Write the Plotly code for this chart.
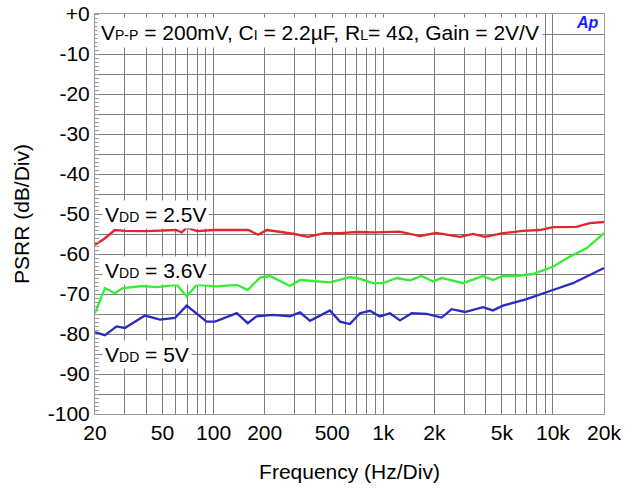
import plotly.graph_objects as go

# ---- data ----
freq_25 = [20, 22.5, 26.2, 30, 40, 50, 60, 65, 69.4, 80, 100, 137, 160, 183, 206, 250, 300, 360,
           450, 556, 700, 900, 1100, 1250, 1650, 2050, 2830, 3380, 3970, 5070, 6650, 8380,
           10000, 13740, 16500, 20000]
psrr_25 = [-57.7, -56.3, -54.0, -54.2, -54.3, -54.2, -54.0, -54.6, -53.4, -54.3, -54.0, -54.0,
           -54.0, -55.2, -54.0, -54.5, -55.0, -55.7, -54.8, -54.8, -54.5, -54.6, -54.5, -54.4,
           -55.5, -54.7, -55.7, -55.0, -55.7, -54.8, -54.2, -54.0, -53.3, -53.2, -52.3, -52.0]

freq_36 = [20, 22.9, 26.2, 29.2, 38.4, 46.4, 60.8, 69.4, 79.5, 104, 137, 159, 188, 215, 282, 323,
           485, 636, 697, 870, 996, 1199, 1436, 1683, 1964, 2208, 2952, 3866, 4426, 5072, 6110,
           7620, 10000, 12590, 15780, 20000]
psrr_36 = [-74.8, -68.5, -69.8, -68.5, -68.0, -68.3, -67.7, -70.6, -67.7, -68.1, -67.7, -69.0,
           -65.9, -65.5, -68.0, -66.5, -67.1, -65.8, -66.0, -67.3, -67.3, -66.0, -66.6, -65.5,
           -66.9, -66.0, -67.3, -65.5, -66.5, -65.5, -65.5, -65.0, -63.2, -60.6, -58.6, -54.8]

freq_5 = [20, 22.9, 26.8, 30, 39.4, 48.3, 59.2, 69.4, 91, 102, 137, 159, 179, 224, 282, 323, 370,
          485, 556, 636, 729, 834, 955, 1095, 1254, 1470, 1803, 2208, 2529, 3030, 3866, 4426,
          5072, 6998, 10000, 13120, 20000]
psrr_5 = [-79.6, -80.3, -78.1, -78.5, -75.4, -76.4, -76.0, -72.9, -76.9, -76.9, -74.8, -77.3,
          -75.6, -75.2, -75.6, -74.6, -76.7, -74.1, -76.9, -77.5, -74.8, -74.2, -75.6, -74.8,
          -76.6, -74.8, -75.0, -75.9, -73.8, -74.5, -73.3, -74.1, -72.9, -71.3, -69.0, -67.3,
          -63.5]

x_grid = [20, 30, 40, 50, 60, 70, 80, 90, 100, 200, 300, 400, 500, 600, 700, 800, 900,
          1000, 2000, 3000, 4000, 5000, 6000, 7000, 8000, 9000, 10000, 20000]
x_labels = {20: "20", 50: "50", 100: "100", 200: "200", 500: "500", 1000: "1k",
            2000: "2k", 5000: "5k", 10000: "10k", 20000: "20k"}
y_grid = list(range(-100, 1, 5))
y_labels = {0: "+0", -10: "-10", -20: "-20", -30: "-30", -40: "-40", -50: "-50",
            -60: "-60", -70: "-70", -80: "-80", -90: "-90", -100: "-100"}

FONT = "Liberation Sans, Arial, sans-serif"
GRID = "#7d7d7d"

fig = go.Figure()
for fx, fy, col in [(freq_25, psrr_25, "#e3262a"),
                    (freq_36, psrr_36, "#33ee33"),
                    (freq_5, psrr_5, "#2b2bc4")]:
    fig.add_trace(go.Scatter(x=fx, y=fy, mode="lines",
                             line=dict(color=col, width=2.3), showlegend=False))

fig.update_xaxes(type="log", range=[1.30103, 4.30103], automargin=False,
                 tickmode="array", tickvals=x_grid,
                 ticktext=[x_labels.get(v, "") for v in x_grid],
                 showgrid=True, gridcolor=GRID, gridwidth=1,
                 showline=True, linecolor="#9a9a9a", linewidth=1, mirror=True,
                 ticks="", tickfont=dict(family=FONT, size=21, color="black"),
                 title=dict(text="Frequency (Hz/Div)", standoff=21,
                            font=dict(family=FONT, size=21, color="black")),
                 zeroline=False)
fig.update_yaxes(range=[-100, 0], tickmode="array", tickvals=y_grid, automargin=False,
                 ticktext=[y_labels.get(v, "") for v in y_grid],
                 showgrid=True, gridcolor=GRID, gridwidth=1,
                 showline=True, linecolor="#9a9a9a", linewidth=1, mirror=True,
                 ticks="", tickfont=dict(family=FONT, size=21, color="black"),
                 minor=dict(tickmode="linear", tick0=0, dtick=1, ticks="inside",
                            ticklen=4, tickcolor="#9a9a9a", showgrid=False),
                 title=dict(text="PSRR (dB/Div)", standoff=12,
                            font=dict(family=FONT, size=21, color="black")),
                 zeroline=False)

sub = "<span style='font-size:14px'>{}</span>"
fig.add_annotation(xref="paper", yref="paper", x=0.004, y=0.955, xanchor="left", yanchor="middle",
                   text="V" + sub.format("P-P") + " = 200mV, C" + sub.format("I") + " = 2.2µF, R"
                        + sub.format("L") + "= 4Ω, Gain = 2V/V",
                   showarrow=False, bgcolor="white", borderpad=3,
                   font=dict(family=FONT, size=21, color="black"))
fig.add_annotation(xref="paper", yref="paper", x=0.995, y=0.98, xanchor="right", yanchor="middle",
                   text="<b><i>Ap</i></b>", showarrow=False,
                   font=dict(family=FONT, size=16, color="#1c1cff"))
for label, yv in [("2.5V", -50), ("3.6V", -64), ("5V", -85.2)]:
    fig.add_annotation(xref="paper", y=yv, yref="y", x=0.014, xanchor="left", yanchor="middle",
                       text="V" + sub.format("DD") + " = " + label, showarrow=False,
                       bgcolor="white", borderpad=2,
                       font=dict(family=FONT, size=21, color="black"))

fig.update_layout(width=644, height=489, margin=dict(l=95, r=40, t=14, b=75),
                  paper_bgcolor="white", plot_bgcolor="white", showlegend=False)
fig.write_html("out.html", config={"displayModeBar": False},
               post_script="document.body.style.margin='0';")
